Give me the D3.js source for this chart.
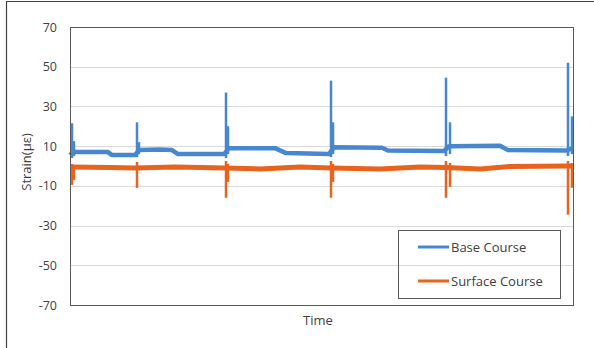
<!DOCTYPE html>
<html>
<head>
<meta charset="utf-8">
<script src="https://cdnjs.cloudflare.com/ajax/libs/d3/7.8.5/d3.min.js"></script>
<style>
  body { margin: 0; background: #fff; }
  text { font-family: "Open Sans", "Noto Sans", sans-serif; fill: #404040; }
</style>
</head>
<body>
<script>
// y axis ticks
let yTicks = [70, 50, 30, 10, -10, -30, -50, -70];

// baseline (noisy band) of each series: time, strain
let baseTimes  = [0, 3, 38, 42, 65, 69, 90, 102, 108, 154, 159, 205, 216, 259, 264, 312, 318, 374, 379, 430, 438, 496, 503];
let baseValues = [5.5, 7, 7, 5.5, 5.5, 8, 8.3, 8, 6, 6, 9, 9, 6.5, 6, 9.5, 9.2, 7.8, 7.5, 10, 10.2, 8, 7.8, 9];

let surfTimes  = [0, 40, 65, 105, 155, 190, 230, 261, 310, 350, 376, 410, 440, 498, 503];
let surfValues = [-0.5, -0.8, -1, -0.5, -1, -1.5, -0.5, -1, -1.5, -0.5, -0.8, -1.5, -0.3, 0, 0];

// load spikes: time, low, high
let baseSpikes = [
  [2, 4, 21.5], [4, 5, 12.5], [67, 4.5, 22], [69, 6, 12],
  [156, 4, 37], [158, 6, 20], [261, 4.5, 43], [263, 6, 22],
  [376, 5, 44.5], [380, 6, 22], [498, 5, 52], [502, 6, 25]
];
let surfSpikes = [
  [2, -9.5, 1], [4, -7, 0], [67, -11, 2],
  [156, -16, 2.5], [158, -8, 1], [261, -16, 2.5], [263, -8, 1],
  [376, -16, 2.5], [380, -10.5, 1.5], [498, -24.5, 2.5], [502, -11, 1.5]
];

let seriesNames = ["Base Course", "Surface Course"];
let seriesColors = ["#4687cf", "#e8631e"];

let width = 594, height = 348;
let svg = d3.select("body").append("svg")
            .attr("width", width)
            .attr("height", height);

// outer frame (left and top edges)
svg.append("line").attr("x1", 6.5).attr("y1", 1.5).attr("x2", 6.5).attr("y2", height)
   .attr("stroke", "#404040").attr("stroke-width", 1.2);
svg.append("line").attr("x1", 6).attr("y1", 1.5).attr("x2", width).attr("y2", 1.5)
   .attr("stroke", "#404040").attr("stroke-width", 1.2);

let plot = {left: 70, top: 27, right: 573, bottom: 305};

let x = d3.scaleLinear().domain([0, 503]).range([plot.left, plot.right]);
let y = d3.scaleLinear().domain([-70, 70]).range([plot.bottom, plot.top]);

// gridlines
svg.append("g")
   .selectAll("line")
   .data(yTicks)
   .join("line")
   .attr("x1", plot.left).attr("x2", plot.right)
   .attr("y1", d => Math.round(y(d)) + 0.5).attr("y2", d => Math.round(y(d)) + 0.5)
   .attr("stroke", "#d9d9d9");

// y axis labels (plain hyphen minus like the original)
let yAxis = svg.append("g")
   .attr("transform", `translate(${plot.left},0)`)
   .call(d3.axisLeft(y).tickValues(yTicks).tickFormat(d => String(d)).tickSize(0).tickPadding(13));
yAxis.select(".domain").remove();
yAxis.selectAll("text")
   .style("font-family", '"Open Sans", sans-serif')
   .style("font-size", "12.5px")
   .attr("fill", "#404040");

let lineOf = (times, values) => d3.line()
   .x((d, i) => x(times[i]))
   .y(d => y(d))(values);

let drawSeries = (times, values, spikes, color, bandWidth) => {
  let g = svg.append("g");
  g.append("path")
   .attr("d", lineOf(times, values))
   .attr("fill", "none")
   .attr("stroke", color)
   .attr("stroke-width", bandWidth)
   .attr("stroke-linejoin", "round");
  g.selectAll("line")
   .data(spikes)
   .join("line")
   .attr("x1", d => x(d[0])).attr("x2", d => x(d[0]))
   .attr("y1", d => y(d[1])).attr("y2", d => y(d[2]))
   .attr("stroke", color)
   .attr("stroke-width", 2.5);
};

drawSeries(baseTimes, baseValues, baseSpikes, seriesColors[0], 4.5);
drawSeries(surfTimes, surfValues, surfSpikes, seriesColors[1], 5);

// plot area border
svg.append("rect")
   .attr("x", plot.left + 0.5).attr("y", plot.top + 0.5)
   .attr("width", plot.right - plot.left).attr("height", plot.bottom - plot.top)
   .attr("fill", "none")
   .attr("stroke", "#595959");

// axis titles
svg.append("text")
   .attr("x", 318).attr("y", 325)
   .attr("text-anchor", "middle")
   .style("font-size", "13px")
   .text("Time");

svg.append("text")
   .attr("transform", "translate(31,162) rotate(-90)")
   .attr("text-anchor", "middle")
   .style("font-size", "13px")
   .text("Strain(με)");

// legend
let legend = svg.append("g");
legend.append("rect")
   .attr("x", 398.5).attr("y", 230.5)
   .attr("width", 162).attr("height", 68)
   .attr("fill", "none")
   .attr("stroke", "#595959");

let legendY = [247, 281];
seriesNames.forEach((name, i) => {
  legend.append("line")
     .attr("x1", 418).attr("x2", 449)
     .attr("y1", legendY[i]).attr("y2", legendY[i])
     .attr("stroke", seriesColors[i])
     .attr("stroke-width", 3);
  legend.append("text")
     .attr("x", 451).attr("y", legendY[i])
     .attr("dy", "0.35em")
     .style("font-size", "13px")
     .text(name);
});
</script>
</body>
</html>
